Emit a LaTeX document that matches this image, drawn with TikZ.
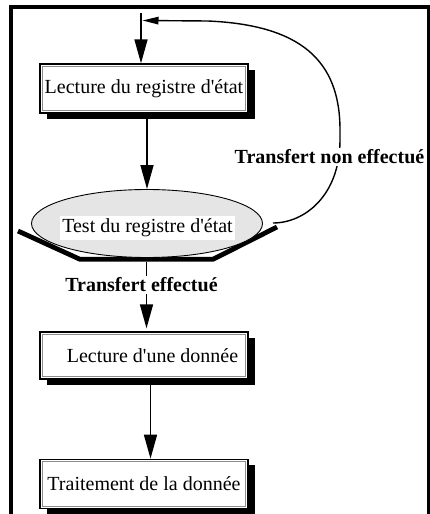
\documentclass[tikz,border=0pt]{standalone}
\usepackage{fontspec}
\setmainfont{Liberation Serif}
\usetikzlibrary{arrows.meta,shapes.geometric,shadows}

% straight apostrophe glyph, bypassing the TeX quote mapping
\newcommand{\sq}{\XeTeXglyph\the\XeTeXcharglyph"27\relax}

\tikzset{
  stepbox/.style={draw=black, line width=1.3pt, fill=white, minimum width=208pt, inner sep=0pt,
    drop shadow={fill=black, opacity=1, shadow xshift=7pt, shadow yshift=-5.5pt},
    path picture={\draw[black!45, line width=0.6pt]
      ([shift={(2.4pt,-2.4pt)}]path picture bounding box.north west) rectangle
      ([shift={(-2.4pt,2.4pt)}]path picture bounding box.south east);},
    font=\fontsize{20}{24}\selectfont},
  flow/.style={line width=1.5pt, -{Triangle[length=24pt,width=13pt]}},
  back/.style={line width=1.4pt, -{Triangle[length=16pt,width=7.5pt]}},
  cond/.style={font=\bfseries\fontsize{20}{24}\selectfont, fill=white, inner sep=2pt},
  plain/.style={font=\fontsize{20}{24}\selectfont, fill=white, inner sep=2.5pt},
}

\begin{document}
\begin{tikzpicture}[x=1pt,y=-1pt]
\useasboundingbox (0,0) rectangle (430,514);

% open frame around the flow
\draw[line width=4.5pt] (10.8,514) -- (10.8,7) -- (429.5,7) -- (429.5,514);

% process boxes
\node[stepbox, minimum height=49pt] (lect) at (144,88.5) {Lecture du registre d\sq état};
\node[stepbox, minimum height=47pt] (donnee) at (144,355.5) {\hspace*{17pt}Lecture d\sq une donnée};
\node[stepbox, minimum height=49pt] (trait) at (144,483.8) {Traitement de la donnée};

% decision: thick tray under the ellipse
\draw[line width=4.8pt] (18,231) -- (80,259.3) -- (213,259.3) -- (277,227);
\node[ellipse, draw, line width=0.9pt, fill=black!10, minimum width=231pt,
      minimum height=68pt, inner sep=0pt] (test) at (147,223.5) {};
\node[plain] (testtxt) at (147.5,228) {Test du registre d\sq état};

% entry arrow
\coordinate (entry) at (141,13);
\draw[flow] (entry) -- (entry |- lect.north);

% read status -> test
\draw[flow] (lect.south -| test.north) -- (test.north);

% transfer done branch
\coordinate (yes) at (146.5,261.7);
\draw[flow] (yes) -- ([yshift=3pt]yes |- donnee.north);
\node[cond] (yeslbl) at (141.5,285) {Transfert effectué};

% read data -> process data
\draw[flow] ([xshift=6.5pt]donnee.south) -- ([xshift=6.5pt]trait.north);

% transfer not done: loop back to the top
\coordinate (loopstart) at (273,223);
\coordinate (loopend) at (142.5,20.5);
\draw[back] (loopstart) .. controls (305,223) and (340,195) .. (340,140)
  -- (340,130) .. controls (340,60) and (300,25) .. (208,21) -- (loopend);
\node[cond] (nolbl) at (329.5,157) {Transfert non effectué};
\end{tikzpicture}
\end{document}
